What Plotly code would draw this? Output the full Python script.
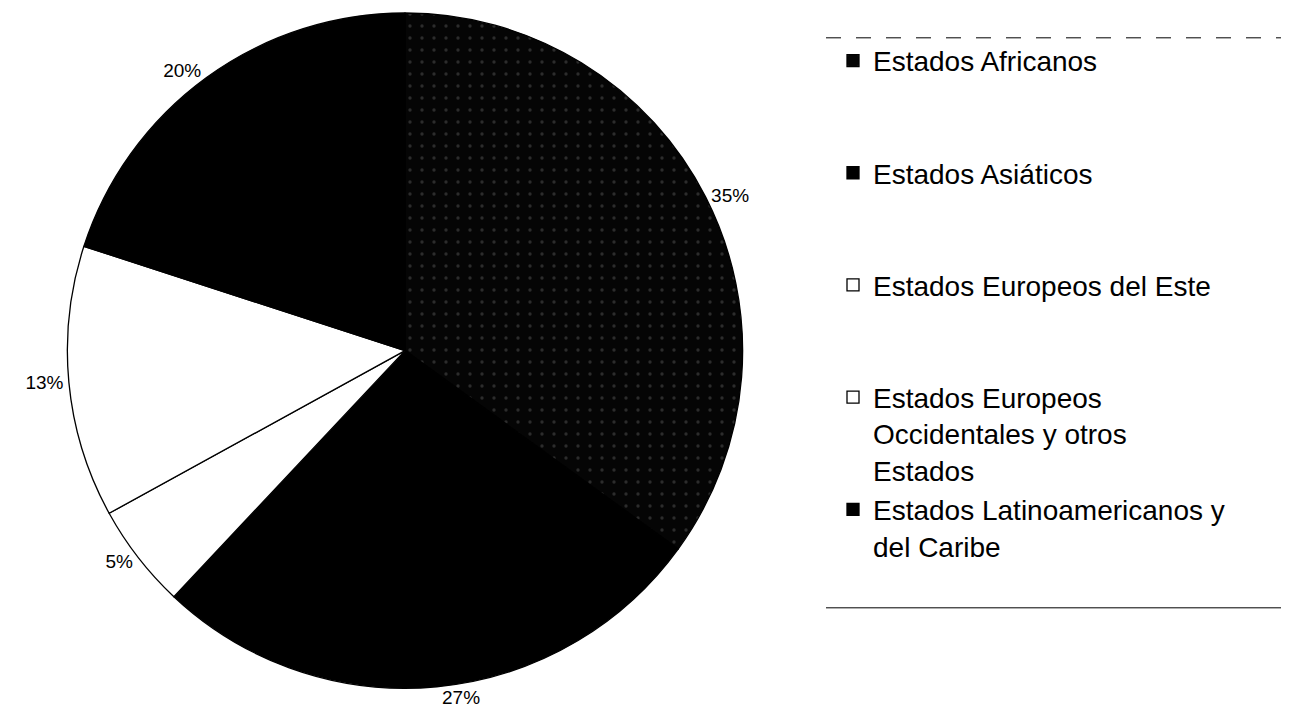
import plotly.graph_objects as go

# Data
categories = [
    "Estados Africanos",
    "Estados Asiáticos",
    "Estados Europeos del Este",
    "Estados Europeos<br>Occidentales y otros<br>Estados",
    "Estados Latinoamericanos y<br>del Caribe",
]
values = [35, 27, 5, 13, 20]
slice_colors = ["#050505", "#000000", "#ffffff", "#ffffff", "#000000"]
pattern_shapes = [".", "", "", "", ""]

# legend padding lines so items are evenly spaced like the original
pad = ["<br>\u00a0<br>\u00a0", "<br>\u00a0<br>\u00a0", "<br>\u00a0<br>\u00a0", "", ""]
legend_labels = [c + p for c, p in zip(categories, pad)]

# the page body adds an 8px margin, so the figure is 8px smaller
OFF = 8
W, H = 1289 - OFF, 725 - OFF
cx, cy, r = 405 - OFF, 348 - OFF, 340


def px_x(x):
    return (x - OFF) / W


def px_y(y):
    return (H - (y - OFF)) / H


fig = go.Figure(
    go.Pie(
        labels=legend_labels,
        values=values,
        sort=False,
        direction="clockwise",
        rotation=0,
        textinfo="percent",
        textposition="outside",
        outsidetextfont=dict(family="Liberation Sans, Arial", size=19, color="#000"),
        marker=dict(
            colors=slice_colors,
            line=dict(color="#000000", width=1.3),
            pattern=dict(shape=pattern_shapes, fgcolor="#2c2c2c", bgcolor="#050505",
                         size=12, solidity=0.06),
        ),
        domain=dict(x=[(cx - r) / W, (cx + r) / W],
                    y=[max(0, (H - cy - r) / H), min(1, (H - cy + r) / H)]),
        hoverinfo="label+percent",
    )
)

fig.update_layout(
    width=W,
    height=H,
    margin=dict(l=0, r=0, t=0, b=0),
    paper_bgcolor="white",
    plot_bgcolor="white",
    showlegend=True,
    legend=dict(
        x=px_x(833),
        y=px_y(31),
        xanchor="left",
        yanchor="top",
        valign="top",
        font=dict(family="Liberation Sans, Arial", size=28, color="#000"),
        bgcolor="rgba(0,0,0,0)",
        borderwidth=0,
    ),
    shapes=[
        dict(type="line", xref="paper", yref="paper", x0=px_x(826), x1=px_x(1285),
             y0=px_y(33), y1=px_y(33), line=dict(color="#000", width=1, dash="longdash")),
        dict(type="line", xref="paper", yref="paper", x0=px_x(826), x1=px_x(1285),
             y0=px_y(607), y1=px_y(607), line=dict(color="#000", width=1)),
    ],
)

fig.write_html("out.html")
